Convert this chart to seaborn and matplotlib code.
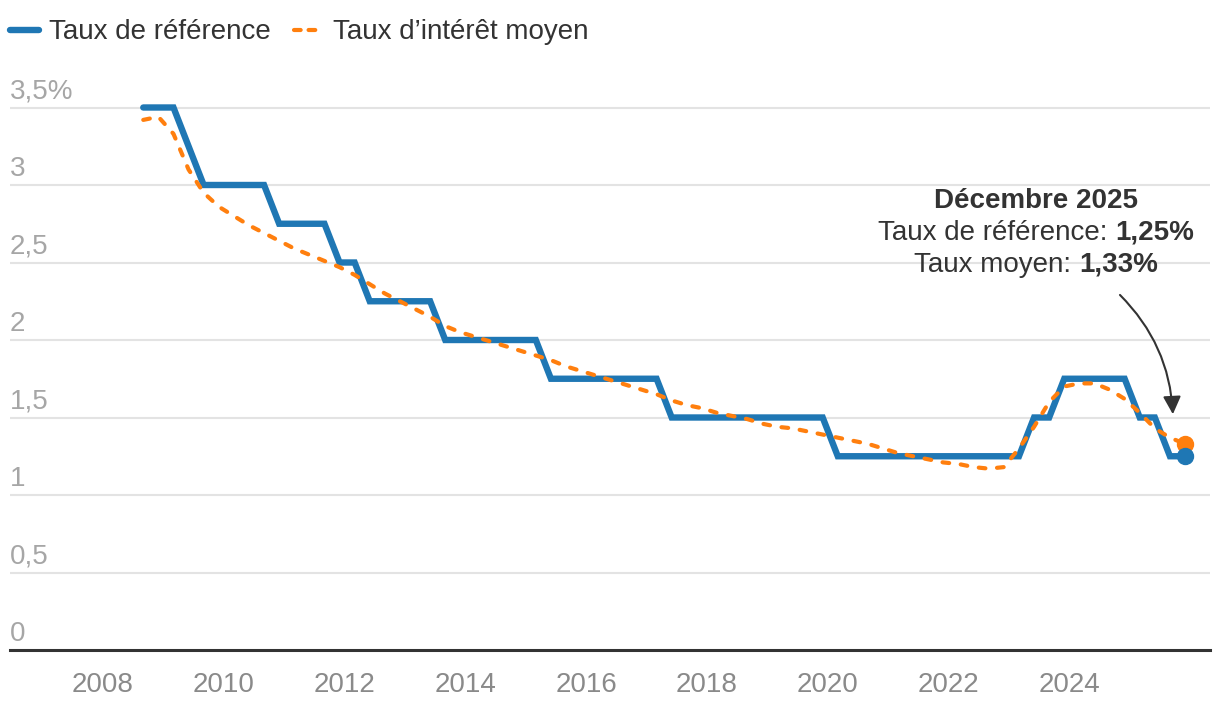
import numpy as np
import pandas as pd
import seaborn as sns
import matplotlib
matplotlib.use("Agg")
import matplotlib.pyplot as plt
from matplotlib.offsetbox import TextArea, HPacker, VPacker, AnnotationBbox

# quarterly observations, Sep 2008 -> Dec 2025
dates = pd.date_range("2008-09-01", "2025-12-01", freq="3MS")

taux_reference = [
    3.50, 3.50, 3.50, 3.25, 3.00, 3.00, 3.00, 3.00, 3.00, 2.75,
    2.75, 2.75, 2.75, 2.50, 2.50, 2.25, 2.25, 2.25, 2.25, 2.25,
    2.00, 2.00, 2.00, 2.00, 2.00, 2.00, 2.00, 1.75, 1.75, 1.75,
    1.75, 1.75, 1.75, 1.75, 1.75, 1.50, 1.50, 1.50, 1.50, 1.50,
    1.50, 1.50, 1.50, 1.50, 1.50, 1.50, 1.25, 1.25, 1.25, 1.25,
    1.25, 1.25, 1.25, 1.25, 1.25, 1.25, 1.25, 1.25, 1.25, 1.50,
    1.50, 1.75, 1.75, 1.75, 1.75, 1.75, 1.50, 1.50, 1.25, 1.25,
]
taux_moyen = [
    3.42, 3.44, 3.33, 3.10, 2.95, 2.86, 2.80, 2.74, 2.69, 2.64,
    2.59, 2.55, 2.51, 2.47, 2.42, 2.36, 2.30, 2.25, 2.20, 2.15,
    2.09, 2.05, 2.02, 1.99, 1.96, 1.93, 1.90, 1.87, 1.83, 1.80,
    1.77, 1.74, 1.71, 1.68, 1.65, 1.61, 1.58, 1.56, 1.53, 1.51,
    1.49, 1.46, 1.44, 1.43, 1.41, 1.39, 1.37, 1.35, 1.33, 1.30,
    1.27, 1.25, 1.23, 1.21, 1.20, 1.18, 1.17, 1.18, 1.30, 1.44,
    1.60, 1.70, 1.72, 1.72, 1.68, 1.62, 1.53, 1.43, 1.37, 1.33,
]

series_names = ["Taux de référence", "Taux d\u2019intérêt moyen"]
y_ticks = [0, 0.5, 1, 1.5, 2, 2.5, 3, 3.5]
y_tick_labels = ["0", "0,5", "1", "1,5", "2", "2,5", "3", "3,5%"]
x_ticks = list(range(2008, 2025, 2))

annot_title = "Décembre 2025"
annot_ref = ("Taux de référence: ", "1,25%")
annot_moy = ("Taux moyen: ", "1,33%")

BLUE = "#1f77b4"
ORANGE = "#ff7f0e"

years = dates.year + (dates.month - 1) / 12
df = pd.DataFrame({"annee": years, "ref": taux_reference, "moy": taux_moyen})

sns.set_theme(style="white")
plt.rcParams["font.family"] = ["Liberation Sans", "DejaVu Sans"]

fig = plt.figure(figsize=(12.2, 7.04), dpi=100)
ax = fig.add_axes([10 / 1220, 54 / 704, 1200 / 1220, 558 / 704])

sns.lineplot(data=df, x="annee", y="ref", color=BLUE, linewidth=4.6,
             ax=ax, label=series_names[0], zorder=3,
             solid_joinstyle="miter", clip_on=False)
sns.lineplot(data=df, x="annee", y="moy", color=ORANGE, linewidth=3,
             ax=ax, label=series_names[1], zorder=4, clip_on=False)
ax.lines[-1].set_dashes([1.6, 2.8])
ax.lines[-1].set_dash_capstyle("round")

# end points
last = df.iloc[-1]
ax.plot(last["annee"], last["moy"], "o", color=ORANGE, markersize=11.5,
        zorder=5, clip_on=False)
ax.plot(last["annee"], last["ref"], "o", color=BLUE, markersize=11.5,
        zorder=6, clip_on=False)

ax.set_xlim(2006.46, 2026.33)
ax.set_ylim(0, 3.6)
ax.set_xlabel("")
ax.set_ylabel("")

# grid + labels above the lines
for v, lab in zip(y_ticks, y_tick_labels):
    if v > 0:
        ax.axhline(v, color="#e3e3e3", linewidth=1.5, zorder=0)
    ax.annotate(lab, xy=(0, v), xycoords=("axes fraction", "data"),
                xytext=(0, 6.5), textcoords="offset points",
                ha="left", va="baseline", fontsize=20, color="#a6a6a6")
ax.set_yticks([])

ax.set_xticks(x_ticks)
ax.set_xticklabels([str(x) for x in x_ticks])
ax.tick_params(axis="x", length=0, pad=16, labelsize=20, labelcolor="#8a8a8a")

sns.despine(ax=ax, left=True, right=True, top=True)
ax.spines["bottom"].set_color("#333333")
ax.spines["bottom"].set_linewidth(2.2)

leg = ax.legend(loc="upper left", bbox_to_anchor=(0.0, 1.13), ncol=2,
                frameon=False, fontsize=20, handlelength=1.05,
                handletextpad=0.35, columnspacing=0.85, borderaxespad=0,
                borderpad=0)
for t in leg.get_texts():
    t.set_color("#333333")
leg.get_lines()[1].set_dashes([1.6, 1.9])

# annotation block
fs = 20
col = "#333333"
title = TextArea(annot_title, textprops=dict(fontsize=fs, fontweight="bold", color=col))
l2 = HPacker(children=[TextArea(annot_ref[0], textprops=dict(fontsize=fs, color=col)),
                       TextArea(annot_ref[1], textprops=dict(fontsize=fs, fontweight="bold", color=col))],
             align="baseline", pad=0, sep=0)
l3 = HPacker(children=[TextArea(annot_moy[0], textprops=dict(fontsize=fs, color=col)),
                       TextArea(annot_moy[1], textprops=dict(fontsize=fs, fontweight="bold", color=col))],
             align="baseline", pad=0, sep=0)
block = VPacker(children=[title, l2, l3], align="center", pad=0, sep=4)
ab = AnnotationBbox(block, (1036 / 1220, 1 - 233 / 704), xycoords="figure fraction",
                    frameon=False, box_alignment=(0.5, 0.5))
ax.add_artist(ab)

ax.annotate("", xy=(1173 / 1220, 1 - 417 / 704), xycoords="figure fraction",
            xytext=(1118 / 1220, 1 - 293 / 704), textcoords="figure fraction",
            arrowprops=dict(arrowstyle="-|>,head_length=0.9,head_width=0.45",
                            color="#333333", lw=1.5,
                            connectionstyle="arc3,rad=-0.2"))

fig.savefig("out.png", dpi=100)
